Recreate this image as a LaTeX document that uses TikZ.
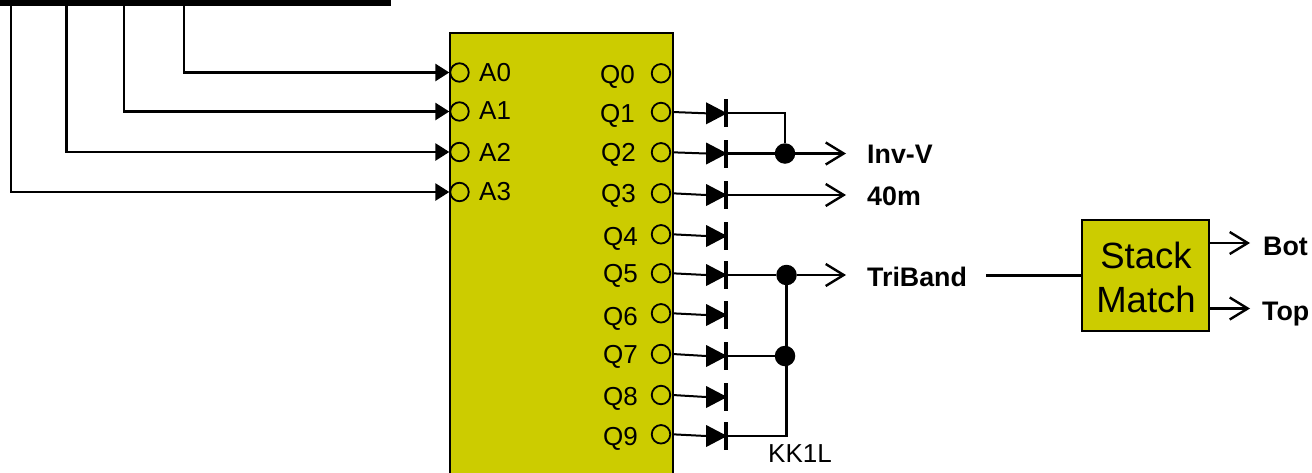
\documentclass[tikz,border=0pt]{standalone}
\usepackage{fontspec}
\setmainfont{Liberation Sans}
\usetikzlibrary{arrows.meta,shapes.geometric,calc}
\tikzset{
  wire/.style={draw=black,line width=2.3pt},
  inwire/.style={wire,line width=2.5pt,-{Triangle[length=14pt,width=17pt]}},
  outwire/.style={wire,-{Straight Barb[length=18pt,width=22pt,line width=2.4pt]}},
  pin/.style={circle,draw=black,line width=1.8pt,minimum size=18.5pt,inner sep=0pt},
  block/.style={rectangle,draw=black,fill=yellowbox,line width=2pt,inner sep=0pt},
  anode/.style={isosceles triangle,isosceles triangle apex angle=55,isosceles triangle stretches,fill=black,inner sep=0pt,minimum height=21pt,minimum width=22pt},
  cathode/.style={rectangle,fill=black,inner sep=0pt,minimum width=3.5pt,minimum height=28pt},
  junction/.style={circle,fill=black,inner sep=0pt,minimum size=20.5pt},
  lbl/.style={font=\fontsize{26}{26}\selectfont,inner sep=0pt,anchor=base west},
  blbl/.style={lbl,font=\fontsize{26.8}{26.8}\selectfont\bfseries},
  stk/.style={font=\fontsize{36.5}{36.5}\selectfont,inner sep=0pt,anchor=base},
  stub/.style={rectangle,fill=black,inner sep=0pt,minimum width=1.5pt,minimum height=1.5pt}
}
\definecolor{yellowbox}{HTML}{CCCC00}
\begin{document}
\begin{tikzpicture}[x=1pt,y=-1pt]
\useasboundingbox (0,0) rectangle (1312,472);
% bus bar
\node[rectangle,fill=black,inner sep=0pt,minimum width=391pt,minimum height=11pt] (bar) at (195.5,0) {};
\foreach \i/\x in {1/37,2/96,3/154,4/213,5/271}{\node[stub] (tick\i) at (\x,5.5) {};}
% decoder block
\node[block,minimum width=223pt,minimum height=460pt] (dec) at (561.5,263) {};
% input pins
\foreach \n/\y/\ly in {0/72.5/81,1/111.5/119,2/152/161,3/192/200}{
  \node[pin] (a\n) at (459.5,\y) {};
  \node[lbl] (la\n) at (479,\ly) {A\n};
}
% input wires
\foreach \n/\x in {0/184,1/124,2/66.5,3/11}{
  \coordinate (tap\n) at (\x,4);
  \draw[inwire] (tap\n) |- (a\n.west);
}
% output pins, labels, diodes
\foreach \n/\y/\lx/\ly/\dy in {
  0/73.3/600/83/0,
  1/112/600/122/113.3,
  2/152.3/601/161/153.5,
  3/193.3/601/202/195,
  4/234.3/603/245/236,
  5/273.3/603/282/275,
  6/313.3/603/325/315,
  7/354/603/363/356,
  8/395/603/405/397,
  9/434.3/603/445/436}{
  \node[pin] (q\n) at (661,\y) {};
  \node[lbl] (lq\n) at (\lx,\ly) {Q\n};
  \ifnum\n>0
    \node[anode] (d\n) at (712.8,\dy) {};
    \node[cathode] (c\n) at (726,\dy) {};
    \coordinate (p\n) at (672.5,\y);
    \draw[wire,line width=2pt] (p\n) -- (d\n.west);
  \fi
}
% junctions
\node[junction] (j1) at (785,153.5) {};
\node[junction] (j2) at (786.5,275) {};
\node[junction] (j3) at (785,356) {};
\coordinate (inv) at (846,153.5);
\coordinate (m40) at (846,195);
\coordinate (tri) at (846,275);
% wiring
\draw[wire] (c1.center) -| (j1.north);
\draw[wire] (c2.center) -- (j1);
\draw[wire] (c5.center) -- (j2);
\draw[wire] (c7.center) -- (j3);
\draw[wire] (c9.center) -| ($(j2.south)+(0,0)$);
\draw[outwire] (j1) -- (inv);
\draw[outwire] (c3.center) -- (m40);
\draw[outwire] (j2) -- (tri);
% labels
\node[blbl] (linv) at (867,163) {Inv-V};
\node[blbl] (l40) at (867,205) {40m};
\node[blbl] (ltri) at (867,286) {TriBand};
\node[lbl] (kk) at (768,462) {KK1L};
% stack match
\node[block,minimum width=127.5pt,minimum height=111pt] (sm) at (1145.7,275.5) {};
\node[stk] (s1) at (1146,268) {Stack};
\node[stk] (s2) at (1146,312) {Match};
\coordinate (trisrc) at (986,275.5);
\draw[wire] (trisrc) -- (sm.west);
\coordinate (smb) at (sm.east |- 0,243);
\coordinate (smt) at (sm.east |- 0,308.5);
\coordinate (bot) at (1250,243);
\coordinate (top) at (1250,308.5);
\draw[outwire] (smb) -- (bot);
\draw[outwire] (smt) -- (top);
\node[blbl] (lbot) at (1263,255) {Bot};
\node[blbl] (ltop) at (1262,320) {Top};
\end{tikzpicture}
\end{document}
